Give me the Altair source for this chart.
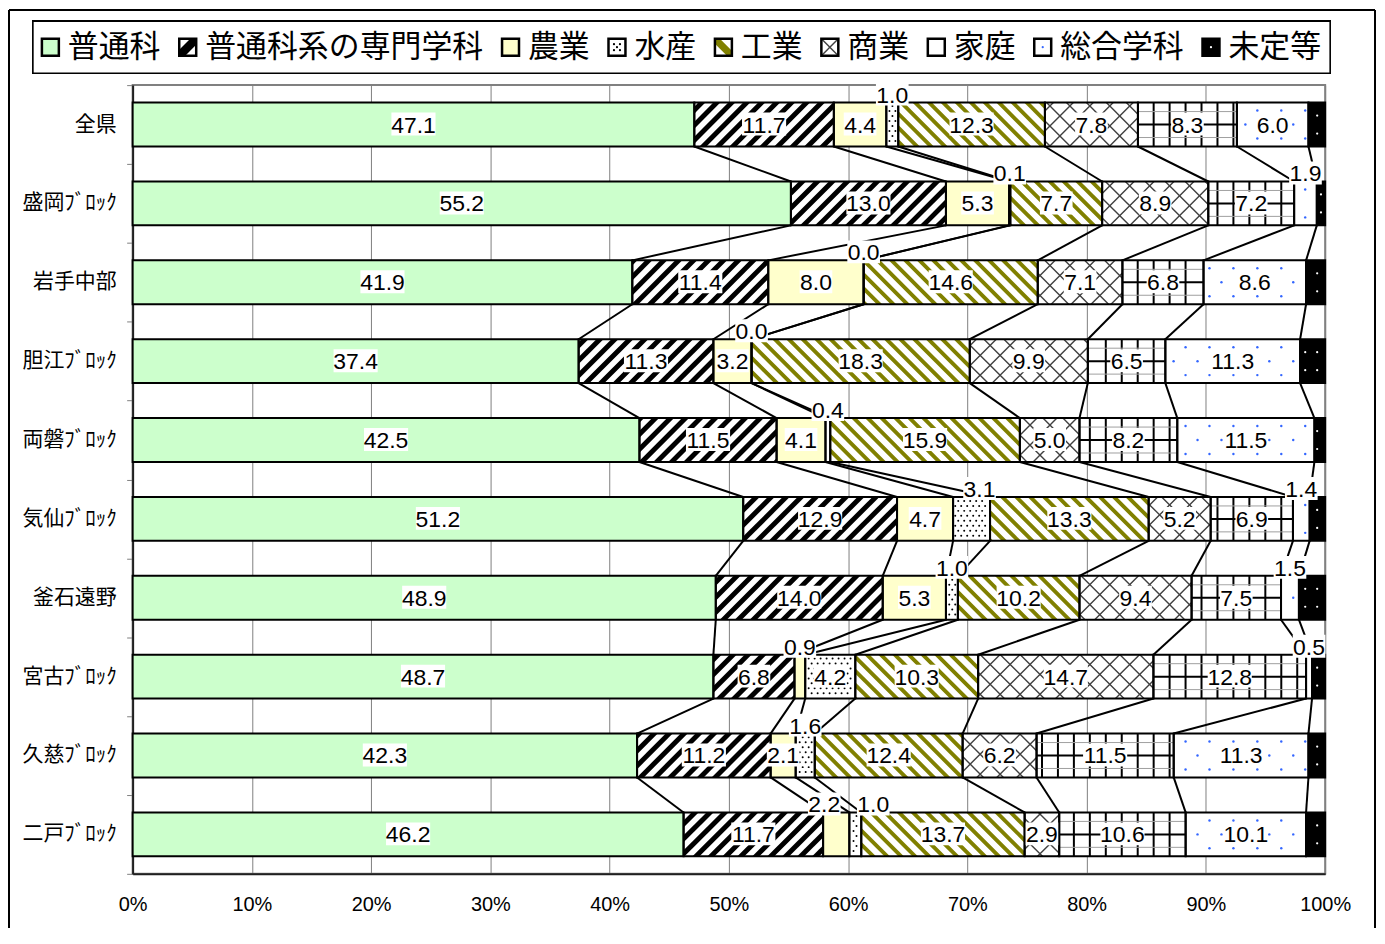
import math
import altair as alt
import pandas as pd

# ---------------- data ----------------
rows = ["全県", "盛岡ﾌﾞﾛｯｸ", "岩手中部", "胆江ﾌﾞﾛｯｸ", "両磐ﾌﾞﾛｯｸ",
        "気仙ﾌﾞﾛｯｸ", "釜石遠野", "宮古ﾌﾞﾛｯｸ", "久慈ﾌﾞﾛｯｸ", "二戸ﾌﾞﾛｯｸ"]
series = ["普通科", "普通科系の専門学科", "農業", "水産", "工業",
          "商業", "家庭", "総合学科", "未定等"]

futsu    = [47.1, 55.2, 41.9, 37.4, 42.5, 51.2, 48.9, 48.7, 42.3, 46.2]
futsukei = [11.7, 13.0, 11.4, 11.3, 11.5, 12.9, 14.0, 6.8, 11.2, 11.7]
nogyo    = [4.4, 5.3, 8.0, 3.2, 4.1, 4.7, 5.3, 0.9, 2.1, 2.2]
suisan   = [1.0, 0.1, 0.0, 0.0, 0.4, 3.1, 1.0, 4.2, 1.6, 1.0]
kogyo    = [12.3, 7.7, 14.6, 18.3, 15.9, 13.3, 10.2, 10.3, 12.4, 13.7]
shogyo   = [7.8, 8.9, 7.1, 9.9, 5.0, 5.2, 9.4, 14.7, 6.2, 2.9]
katei    = [8.3, 7.2, 6.8, 6.5, 8.2, 6.9, 7.5, 12.8, 11.5, 10.6]
sogo     = [6.0, 1.9, 8.6, 11.3, 11.5, 1.4, 1.5, 0.5, 11.3, 10.1]
mitei    = [1.4, 0.7, 1.6, 2.1, 0.9, 1.3, 2.2, 1.1, 1.4, 1.6]
values = [futsu, futsukei, nogyo, suisan, kogyo, shogyo, katei, sogo, mitei]

x_ticks = list(range(0, 101, 10))

# labels that sit above the bar (small segments)
above = {(0, "水産"), (1, "水産"), (1, "総合学科"), (2, "水産"), (3, "水産"),
         (4, "水産"), (5, "水産"), (5, "総合学科"), (6, "水産"), (6, "総合学科"),
         (7, "農業"), (7, "総合学科"), (8, "水産"), (9, "農業"), (9, "水産")}
nudge_px = {(9, "農業"): -12, (9, "水産"): 18, (5, "水産"): 8}

# ---------------- styles ----------------
W, H = 1196, 791
PX = W / 100.0
PY = H / 10.0
HALF = 22.0
hh = HALF / PY
JP = "Noto Sans CJK JP"
NUM = "Liberation Sans Narrow, Arial Narrow, Liberation Sans, Arial"
LFS = 23

base_fill = {"普通科": "#CCFFCC", "普通科系の専門学科": "#FFFFFF", "農業": "#FFFFCC",
             "水産": "#FFFFFF", "工業": "#FFFFFF", "商業": "#FFFFFF", "家庭": "#FFFFFF",
             "総合学科": "#FFFFFF", "未定等": "#000000"}


# ---------------- texture helpers ----------------
def band(x0, x1, y0, y1, cc, bw, direction, sid, col, out, sx, sy):
    if direction == "/":
        xa, xb = max(x0, cc - y1), min(x1, cc + bw - y0)
        bps = [cc - y1, cc - y0, cc + bw - y1, cc + bw - y0]
        lo = lambda x: max(y0, cc - x)
        hi = lambda x: min(y1, cc + bw - x)
    else:
        xa, xb = max(x0, y0 - cc - bw), min(x1, y1 - cc)
        bps = [y0 - cc, y1 - cc, y0 - cc - bw, y1 - cc - bw]
        lo = lambda x: max(y0, cc + x)
        hi = lambda x: min(y1, cc + bw + x)
    if xb - xa < 0.3:
        return
    xs = sorted(set([xa, xb] + [p for p in bps if xa < p < xb]))
    for x in xs:
        out.append(dict(sid=sid, x=x / sx, lo=lo(x) / sy, hi=hi(x) / sy, col=col))


def stripes(x0, x1, y0, y1, P, bw, direction, tag, col, out, sx=PX, sy=PY):
    if x1 - x0 < 0.5:
        return
    if direction == "/":
        kmin = math.floor((x0 + y0 - bw) / P) - 1
        kmax = math.ceil((x1 + y1) / P) + 1
    else:
        kmin = math.floor((y0 - x1 - bw) / P) - 1
        kmax = math.ceil((y1 - x0) / P) + 1
    for kk in range(kmin, kmax + 1):
        band(x0, x1, y0, y1, kk * P, bw, direction, f"{tag}_{kk}", col, out, sx, sy)


# ---------------- tables ----------------
seg_recs, lab_recs = [], []
bounds = []
for i, name in enumerate(rows):
    cum = 0.0
    c = i + 0.5
    b = []
    for k, s in enumerate(series):
        v = values[k][i]
        st, en = cum, cum + v
        cum = en
        b.append(en)
        seg_recs.append(dict(row=name, i=i, series=s, value=v, start=st, end=en,
                             ytop=c - hh, ybot=c + hh, yc=c, base=base_fill[s]))
        if s != "未定等":
            txt = f"{v:.1f}"
            up = (i, s) in above
            lx = (st + en) / 2 + nudge_px.get((i, s), 0) / PX
            ly = (c - hh - 8 / PY) if up else c
            tw = LFS * (0.5 * sum(ch.isdigit() for ch in txt) + 0.25 * txt.count(".")) + 4
            lab_recs.append(dict(txt=txt, lx=lx, ly=ly,
                                 bx1=lx - tw / 2 / PX, bx2=lx + tw / 2 / PX,
                                 by1=ly - 12 / PY, by2=ly + 11 / PY))
    bounds.append(b)
segs = pd.DataFrame(seg_recs)
labs = pd.DataFrame(lab_recs)

conn = []
for i in range(len(rows) - 1):
    for k in range(len(series) - 1):
        conn.append(dict(x=bounds[i][k], x2=bounds[i + 1][k],
                         y=i + 0.5 + hh, y2=i + 1.5 - hh))
conn = pd.DataFrame(conn)

cats = pd.DataFrame(dict(name=rows, yc=[i + 0.5 for i in range(len(rows))]))

stripe_recs, vrules, hrules, dots_black, dots_blue, dots_white = [], [], [], [], [], []
for r in seg_recs:
    x0, x1 = r["start"] * PX, r["end"] * PX
    y0, y1 = r["ytop"] * PY, r["ybot"] * PY
    ycp = r["yc"] * PY
    tag = f"{r['i']}_{r['series']}"
    s = r["series"]
    if s == "普通科系の専門学科":
        stripes(x0, x1, y0, y1, 15, 7, "/", tag, "#000000", stripe_recs)
    elif s == "工業":
        stripes(x0, x1, y0, y1, 14, 5.5, "\\", tag, "#808000", stripe_recs)
    elif s == "商業":
        stripes(x0, x1, y0, y1, 20, 2.0, "/", tag + "a", "#404040", stripe_recs)
        stripes(x0, x1, y0, y1, 20, 2.0, "\\", tag + "b", "#404040", stripe_recs)
    elif s == "家庭":
        n0 = math.ceil((x0 + 3) / 16)
        n1 = math.floor((x1 - 3) / 16)
        for n in range(n0, n1 + 1):
            vrules.append(dict(x=n * 16 / PX, y=y0 / PY, y2=y1 / PY))
        if x1 - x0 > 2:
            hrules.append(dict(x=r["start"], x2=r["end"], y=r["yc"], col="#000000", w=2))
            hrules.append(dict(x=r["start"], x2=r["end"], y=(ycp - 13) / PY, col="#A0A0A0", w=1))
            hrules.append(dict(x=r["start"], x2=r["end"], y=(ycp + 13) / PY, col="#A0A0A0", w=1))
    elif s == "水産":
        for j, yy in enumerate(range(int(y0) + 4, int(y1) - 2, 5)):
            off = 0 if j % 2 == 0 else 3
            n0 = math.ceil((x0 + 2 - off) / 6)
            n1 = math.floor((x1 - 2 - off) / 6)
            for n in range(n0, n1 + 1):
                dots_black.append(dict(x=(n * 6 + off) / PX, y=yy / PY))
    elif s == "総合学科":
        for j, dy in enumerate([-14, 0, 14]):
            off = 0 if j % 2 == 0 else 12
            n0 = math.ceil((x0 + 3 - off) / 24)
            n1 = math.floor((x1 - 3 - off) / 24)
            for n in range(n0, n1 + 1):
                dots_blue.append(dict(x=(n * 24 + off) / PX, y=(ycp + dy) / PY))
    elif s == "未定等":
        for dy in [-9, 9]:
            n0 = math.ceil((x0 + 2) / 12)
            n1 = math.floor((x1 - 2) / 12)
            for n in range(n0, n1 + 1):
                dots_white.append(dict(x=n * 12 / PX, y=(ycp + dy) / PY))
            if n1 < n0:
                dots_white.append(dict(x=(x0 + x1) / 2 / PX, y=(ycp + dy) / PY))

stripe_df = pd.DataFrame(stripe_recs)
vr_df = pd.DataFrame(vrules)
hr_df = pd.DataFrame(hrules)
db_df = pd.DataFrame(dots_black)
dbl_df = pd.DataFrame(dots_blue)
dw_df = pd.DataFrame(dots_white)

# ---------------- custom legend (pixel layout in the view's frame) ----------------
LEG_X0, LEG_X1, LEG_Y0, LEG_Y1 = -100, 1201, -64, -12
LEG_FS = 31
SW = 17
SW_GAP = 9
leg_pad = 9
text_total = sum(len(s) * LEG_FS for s in series)
item_gap = ((LEG_X1 - LEG_X0 - 2 * leg_pad) - text_total - len(series) * (SW + SW_GAP)) / (len(series) - 1)
legend_base = ["#CCFFCC", "#FFFFFF", "#FFFFCC", "#FFFFFF", "#FFFFFF",
               "#FFFFFF", "#FFFFFF", "#FFFFFF", "#000000"]
leg_recs, leg_bands, leg_dots = [], [], []
cx = LEG_X0 + leg_pad
ymid = (LEG_Y0 + LEG_Y1) / 2
for k, s in enumerate(series):
    sx0, sx1 = cx, cx + SW
    sy0, sy1 = ymid - SW / 2, ymid + SW / 2
    leg_recs.append(dict(series=s, sx0=sx0, sx1=sx1, sy0=sy0, sy1=sy1,
                         tx=sx1 + SW_GAP, fill=legend_base[k]))
    mc = (sx0 + sx1) / 2 + (sy0 + sy1) / 2
    mc2 = (sy0 + sy1) / 2 - (sx0 + sx1) / 2
    if s == "普通科系の専門学科":
        band(sx0, sx1, sy0, sy1, mc - 6, 12, "/", "lg1", "#000000", leg_bands, 1, 1)
    elif s == "工業":
        band(sx0, sx1, sy0, sy1, mc2 - 5, 10, "\\", "lg4", "#808000", leg_bands, 1, 1)
    elif s == "商業":
        band(sx0, sx1, sy0, sy1, mc - 1, 2, "/", "lg5a", "#404040", leg_bands, 1, 1)
        band(sx0, sx1, sy0, sy1, mc2 - 1, 2, "\\", "lg5b", "#404040", leg_bands, 1, 1)
    elif s == "水産":
        for ddx, ddy in [(-3, -3), (3, -3), (0, 0), (-3, 3), (3, 3)]:
            leg_dots.append(dict(x=(sx0 + sx1) / 2 + ddx, y=ymid + ddy, col="#000000"))
    elif s == "総合学科":
        leg_dots.append(dict(x=(sx0 + sx1) / 2, y=ymid, col="#3366FF"))
    elif s == "未定等":
        leg_dots.append(dict(x=(sx0 + sx1) / 2, y=ymid, col="#FFFFFF"))
    cx = sx1 + SW_GAP + len(s) * LEG_FS + item_gap
leg_df = pd.DataFrame(leg_recs)
leg_band_df = pd.DataFrame(leg_bands)
leg_dot_df = pd.DataFrame(leg_dots)

# ---------------- scales / axes ----------------
xscale = alt.Scale(domain=[0, 100], nice=False, zero=True)
yscale = alt.Scale(domain=[0, 10], nice=False, zero=True, reverse=True)
xaxis = alt.Axis(values=x_ticks, labelExpr="datum.value + '%'", grid=True,
                 gridColor="#808080", gridWidth=1, ticks=False, tickSize=0,
                 domain=True, domainColor="#202020", domainWidth=2,
                 labelFont=NUM, labelFontSize=20, labelColor="#000000",
                 labelPadding=31, labelBaseline="middle", labelFlush=False, title=None)
yaxis = alt.Axis(values=list(range(0, 11)), labels=False, ticks=True, tickSize=6,
                 tickColor="#808080", tickWidth=1, domain=True, domainColor="#202020",
                 domainWidth=2, grid=False, title=None)


def X(f):
    return alt.X(f, type="quantitative", scale=xscale, axis=xaxis)


def Y(f):
    return alt.Y(f, type="quantitative", scale=yscale, axis=yaxis)


# ---------------- layers ----------------
frame_top = alt.Chart(cats).mark_rule(color="#000000", strokeWidth=1.5).encode(
    x=alt.value(-124), x2=alt.value(1246), y=alt.value(-75))
frame_left = alt.Chart(cats).mark_rule(color="#000000", strokeWidth=1.5).encode(
    x=alt.value(-124), y=alt.value(-75), y2=alt.value(850))
frame_right = alt.Chart(cats).mark_rule(color="#000000", strokeWidth=1.5).encode(
    x=alt.value(1246), y=alt.value(-75), y2=alt.value(850))

leg_box = alt.Chart(cats).mark_rect(fill="#FFFFFF", stroke="#000000", strokeWidth=1.5).encode(
    x=alt.value(LEG_X0), x2=alt.value(LEG_X1), y=alt.value(LEG_Y0), y2=alt.value(LEG_Y1))
leg_sw = alt.Chart(leg_df).mark_rect(strokeWidth=0).encode(
    x=alt.X("sx0:Q", scale=None), x2="sx1", y=alt.Y("sy0:Q", scale=None), y2="sy1",
    fill=alt.Fill("fill:N", scale=None))
leg_sw_tex = alt.Chart(leg_band_df).mark_area(orient="vertical", interpolate="linear").encode(
    x=alt.X("x:Q", scale=None), y=alt.Y("lo:Q", scale=None), y2="hi", detail="sid:N",
    fill=alt.Fill("col:N", scale=None))
leg_sw_dots = alt.Chart(leg_dot_df).mark_circle(size=5, opacity=1).encode(
    x=alt.X("x:Q", scale=None), y=alt.Y("y:Q", scale=None),
    color=alt.Color("col:N", scale=None))
leg_sw_out = alt.Chart(leg_df).mark_rect(fillOpacity=0, stroke="#000000", strokeWidth=2.5).encode(
    x=alt.X("sx0:Q", scale=None), x2="sx1", y=alt.Y("sy0:Q", scale=None), y2="sy1")
leg_txt = alt.Chart(leg_df).mark_text(font=JP, fontSize=LEG_FS, color="#000000",
                                      align="left", baseline="middle", dy=1).encode(
    x=alt.X("tx:Q", scale=None), y=alt.value(ymid), text="series:N")

bars = alt.Chart(segs).mark_rect(strokeWidth=0).encode(
    x=X("start"), x2="end", y=Y("ytop"), y2="ybot",
    fill=alt.Fill("base:N", scale=None))

stripe_layer = alt.Chart(stripe_df).mark_area(orient="vertical", interpolate="linear").encode(
    x=X("x"), y=Y("lo"), y2="hi", detail="sid:N",
    fill=alt.Fill("col:N", scale=None))

vr_layer = alt.Chart(vr_df).mark_rule(color="#000000", strokeWidth=2).encode(
    x=X("x"), y=Y("y"), y2="y2")
hr_layer = alt.Chart(hr_df).mark_rule().encode(
    x=X("x"), x2="x2", y=Y("y"),
    color=alt.Color("col:N", scale=None),
    strokeWidth=alt.StrokeWidth("w:Q", scale=None))

dots_b = alt.Chart(db_df).mark_circle(color="#000000", size=4, opacity=1).encode(
    x=X("x"), y=Y("y"))
dots_bl = alt.Chart(dbl_df).mark_circle(color="#3366FF", size=6, opacity=1).encode(
    x=X("x"), y=Y("y"))
dots_w = alt.Chart(dw_df).mark_circle(color="#FFFFFF", size=5, opacity=1).encode(
    x=X("x"), y=Y("y"))

outline = alt.Chart(segs).mark_rect(fillOpacity=0, stroke="#000000", strokeWidth=2).encode(
    x=X("start"), x2="end", y=Y("ytop"), y2="ybot")

conn_layer = alt.Chart(conn).mark_rule(color="#000000", strokeWidth=2).encode(
    x=X("x"), x2="x2", y=Y("y"), y2="y2")

boxes = alt.Chart(labs).mark_rect(fill="#FFFFFF", strokeWidth=0).encode(
    x=X("bx1"), x2="bx2", y=Y("by1"), y2="by2")

texts = alt.Chart(labs).mark_text(font=NUM, fontSize=LFS, color="#000000",
                                  align="center", baseline="middle", dy=1).encode(
    x=X("lx"), y=Y("ly"), text="txt:N")

cat_text = alt.Chart(cats).mark_text(font=JP, fontSize=21, color="#000000",
                                     align="right", baseline="middle").encode(
    x=alt.value(-16), y=Y("yc"), text="name:N")

chart = alt.layer(
    frame_top, frame_left, frame_right,
    leg_box, leg_sw, leg_sw_tex, leg_sw_dots, leg_sw_out, leg_txt,
    bars, stripe_layer, vr_layer, hr_layer, dots_b, dots_bl, dots_w,
    outline, conn_layer, boxes, texts, cat_text
).properties(
    width=W, height=H,
    padding={"left": 125, "top": 76, "right": 52, "bottom": 53},
    autosize=alt.AutoSizeParams(type="none"),
    background="#FFFFFF"
).configure_view(stroke="#808080", strokeWidth=2)

chart.save("out.html", embed_options={"renderer": "svg", "actions": False})
